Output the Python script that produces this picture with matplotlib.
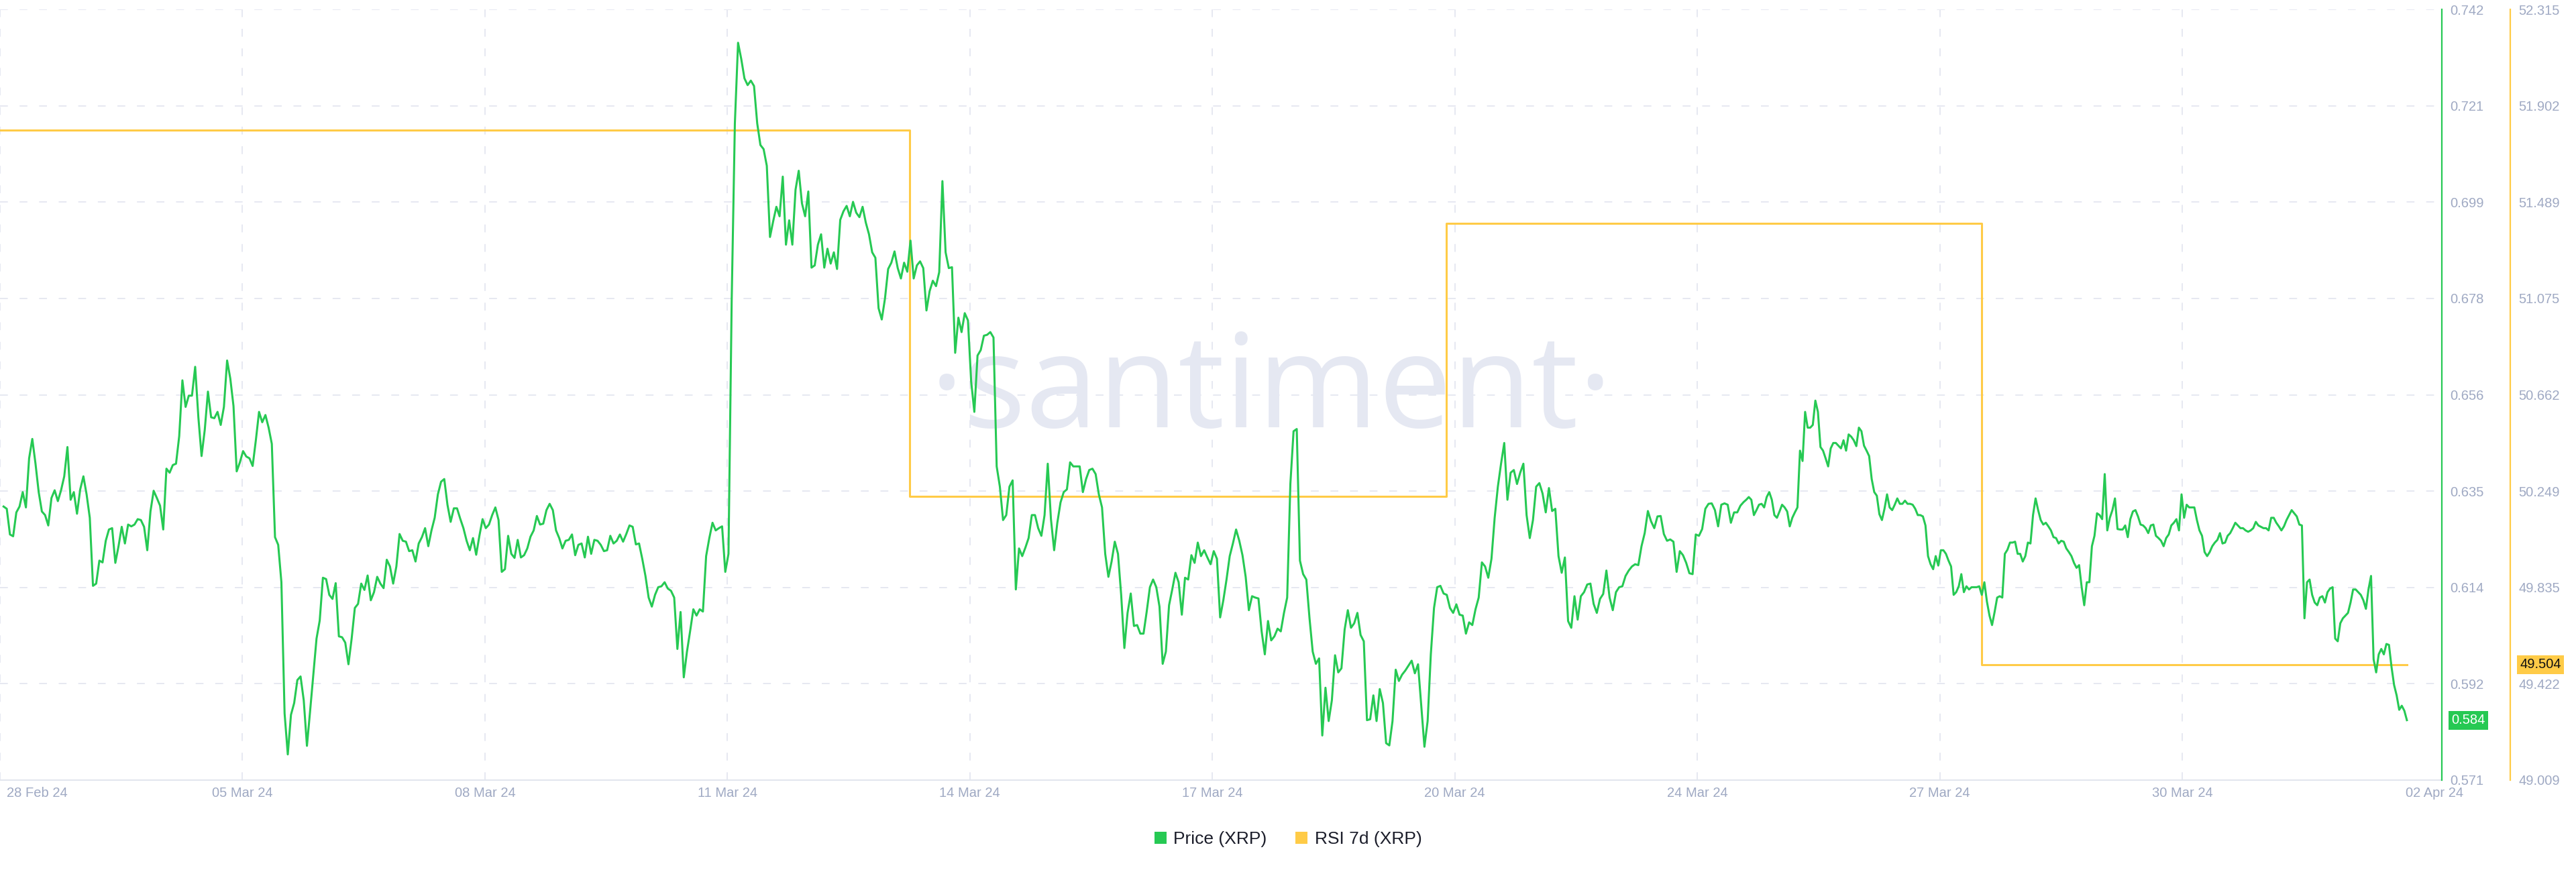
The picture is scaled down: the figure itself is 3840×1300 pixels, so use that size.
import matplotlib.pyplot as plt
from matplotlib.lines import Line2D
from matplotlib.transforms import ScaledTranslation, blended_transform_factory
import numpy as np

plt.rcParams['font.family'] = ['Liberation Sans', 'DejaVu Sans']

# XRP price in three stretches (days since 28 Feb 24)
seg_days = [(0.05, 12.23), (12.23, 24.45), (24.45, 33.75)]

price_a = [
    .6317, .6312, .6255, .6251, .6304, .6317, .6349, .6315, .6424, .6467,
    .6412, .6349, .6306, .6298, .6275, .6336, .6353, .6329, .6353, .6384,
    .6449, .6332, .6349, .6301, .6355, .6384, .6344, .6292, .6141, .6146,
    .6197, .6193, .6241, .6266, .6269, .6192, .6229, .6272, .6235, .6277,
    .6273, .6277, .6289, .6287, .6272, .6220, .6306, .6352, .6336, .6319,
    .6266, .6401, .6392, .6409, .6412, .6473, .6597, .6538, .6563, .6563,
    .6627, .6515, .6429, .6487, .6572, .6515, .6513, .6527, .6498, .6538,
    .6641, .6601, .6540, .6395, .6415, .6440, .6428, .6424, .6407, .6464,
    .6527, .6504, .6520, .6492, .6456, .6249, .6232, .6149, .5858, .5767,
    .5855, .5881, .5932, .5940, .5887, .5786, .5864, .5944, .6024, .6064,
    .6159, .6156, .6121, .6112, .6147, .6029, .6027, .6015, .5967, .6024,
    .6092, .6101, .6146, .6132, .6164, .6109, .6127, .6161, .6146, .6136,
    .6199, .6184, .6146, .6184, .6256, .6241, .6239, .6218, .6220, .6195,
    .6235, .6249, .6269, .6229, .6264, .6292, .6344, .6372, .6378, .6321,
    .6283, .6313, .6313, .6290, .6269, .6241, .6220, .6247, .6210, .6252,
    .6289, .6269, .6277, .6298, .6315, .6287, .6172, .6178, .6252, .6212,
    .6203, .6243, .6204, .6209, .6224, .6250, .6264, .6296, .6277, .6279,
    .6309, .6323, .6309, .6264, .6247, .6224, .6241, .6243, .6255, .6209,
    .6232, .6235, .6204, .6250, .6212, .6243, .6241, .6232, .6218, .6220,
    .6252, .6235, .6241, .6255, .6239, .6256, .6275, .6272, .6233, .6235,
    .6201, .6163, .6115, .6095, .6121, .6138, .6140, .6149, .6135, .6130,
    .6115, .6001, .6083, .5938, .5995, .6041, .6089, .6075, .6089, .6084,
    .6207, .6247, .6281, .6264, .6269, .6273, .6172, .6212, .6772, .7167,
    .7346, .7310, .7267, .7252, .7262, .7250, .7167, .7119, .7110, .7073,
    .6915, .6950, .6982, .6961, .7049, .6898, .6952, .6898, .7020, .7062,
    .6990, .6961, .7016, .6847, .6852, .6898, .6921, .6847, .6889, .6856,
    .6881, .6844, .6953, .6972, .6984, .6961, .6993, .6969, .6959, .6982,
    .6947, .6921, .6881,
]

price_b = [
    .6881, .6869, .6757, .6732, .6778, .6844, .6858, .6883, .6846, .6823,
    .6858, .6838, .6907, .6823, .6852, .6861, .6846, .6752, .6795, .6818,
    .6806, .6837, .7039, .6881, .6846, .6848, .6658, .6736, .6704, .6746,
    .6730, .6595, .6527, .6652, .6664, .6696, .6698, .6704, .6692, .6406,
    .6361, .6287, .6298, .6361, .6375, .6133, .6224, .6207, .6226, .6247,
    .6298, .6298, .6269, .6252, .6298, .6412, .6289, .6220, .6281, .6326,
    .6349, .6355, .6415, .6406, .6406, .6406, .6349, .6378, .6398, .6401,
    .6389, .6344, .6315, .6212, .6161, .6195, .6239, .6212, .6121, .6003,
    .6081, .6124, .6052, .6054, .6035, .6035, .6084, .6138, .6155, .6138,
    .6095, .5968, .5995, .6098, .6133, .6170, .6149, .6077, .6159, .6155,
    .6209, .6192, .6237, .6207, .6220, .6204, .6189, .6218, .6201, .6071,
    .6109, .6155, .6207, .6235, .6266, .6241, .6209, .6161, .6087, .6118,
    .6115, .6113, .6040, .5989, .6063, .6020, .6029, .6046, .6040, .6081,
    .6115, .6367, .6484, .6489, .6197, .6167, .6155, .6069, .5995, .5968,
    .5980, .5809, .5915, .5841, .5887, .5987, .5949, .5958, .6044, .6087,
    .6048, .6058, .6081, .6032, .6018, .5843, .5845, .5898, .5841, .5912,
    .5881, .5792, .5787, .5841, .5955, .5930, .5944, .5953, .5964, .5975,
    .5947, .5967, .5875, .5784, .5841, .5989, .6092, .6138, .6141, .6124,
    .6121, .6092, .6081, .6100, .6077, .6075, .6035, .6060, .6054, .6089,
    .6115, .6193, .6184, .6159, .6201, .6292, .6361, .6412, .6458, .6332,
    .6392, .6398, .6367, .6392, .6412, .6298, .6247, .6287, .6361, .6369,
    .6346, .6304, .6358, .6307, .6312, .6207, .6170, .6204, .6063, .6048,
    .6118, .6066, .6118, .6127, .6144, .6146, .6101, .6081, .6112, .6123,
    .6175, .6115, .6087, .6127, .6138, .6140, .6163, .6175, .6184, .6189,
    .6187, .6229, .6258, .6307, .6284, .6269, .6295, .6296, .6256, .6241,
    .6244, .6239, .6172, .6218, .6209, .6192, .6169, .6167, .6255, .6252,
    .6267, .6312, .6323, .6324, .6309, .6273, .6321, .6324, .6321, .6281,
    .6304, .6304, .6319, .6327,
]

price_c = [
    .6327, .6332, .6338, .6332, .6298, .6309, .6321, .6323, .6315, .6338,
    .6349, .6332, .6298, .6292, .6306, .6321, .6315, .6306, .6273, .6292,
    .6304, .6315, .6441, .6418, .6527, .6492, .6492, .6498, .6552, .6527,
    .6449, .6441, .6424, .6406, .6446, .6458, .6458, .6452, .6446, .6464,
    .6441, .6477, .6472, .6464, .6451, .6492, .6484, .6452, .6441, .6429,
    .6378, .6349, .6341, .6300, .6287, .6312, .6344, .6315, .6309, .6321,
    .6335, .6323, .6323, .6330, .6323, .6323, .6321, .6312, .6298, .6298,
    .6295, .6275, .6207, .6189, .6178, .6207, .6186, .6220, .6220, .6212,
    .6197, .6184, .6121, .6127, .6140, .6167, .6127, .6140, .6133, .6138,
    .6138, .6138, .6140, .6121, .6149, .6106, .6075, .6054, .6083, .6115,
    .6118, .6115, .6212, .6221, .6237, .6237, .6239, .6212, .6212, .6195,
    .6207, .6237, .6235, .6298, .6335, .6309, .6287, .6277, .6281, .6273,
    .6264, .6249, .6247, .6235, .6241, .6239, .6224, .6216, .6207, .6192,
    .6181, .6187, .6138, .6098, .6149, .6149, .6229, .6252, .6302, .6298,
    .6289, .6389, .6264, .6292, .6309, .6335, .6267, .6266, .6266, .6275,
    .6249, .6289, .6306, .6309, .6295, .6277, .6275, .6269, .6258, .6275,
    .6277, .6252, .6247, .6241, .6229, .6247, .6255, .6275, .6281, .6289,
    .6264, .6344, .6292, .6321, .6315, .6315, .6315, .6287, .6264, .6252,
    .6216, .6207, .6216, .6229, .6237, .6243, .6258, .6235, .6237, .6252,
    .6258, .6269, .6281, .6275, .6269, .6269, .6264, .6261, .6264, .6269,
    .6283, .6275, .6272, .6269, .6269, .6264, .6292, .6292, .6281, .6273,
    .6264, .6273, .6287, .6298, .6309, .6302, .6295, .6277, .6275, .6069,
    .6149, .6155, .6121, .6104, .6098, .6115, .6118, .6104, .6127, .6135,
    .6138, .6024, .6018, .6058, .6069, .6075, .6081, .6104, .6133, .6133,
    .6127, .6121, .6109, .6090, .6133, .6163, .5978, .5949, .5989, .6001,
    .5989, .6012, .6010, .5961, .5921, .5898, .5866, .5875, .5864, .5843,
]

# RSI 7d, weekly steps
rsi_days = [0.0, 12.76, 20.28, 27.79, 33.75]
rsi_vals = [51.796, 50.227, 51.396, 49.504, 49.504]

tick_days = [0, 3.4, 6.8, 10.2, 13.6, 17.0, 20.4, 23.8, 27.2, 30.6, 34.0]
tick_labels = ['28 Feb 24', '05 Mar 24', '08 Mar 24', '11 Mar 24', '14 Mar 24', '17 Mar 24',
               '20 Mar 24', '24 Mar 24', '27 Mar 24', '30 Mar 24', '02 Apr 24']
price_ticks = ['0.571', '0.592', '0.614', '0.635', '0.656', '0.678', '0.699', '0.721', '0.742']
rsi_ticks = ['49.009', '49.422', '49.835', '50.249', '50.662', '51.075', '51.489', '51.902', '52.315']

green = '#26c953'
orange = '#ffcb47'
label_col = '#9fa9c3'
grid_col = '#e6e8f1'

days = np.concatenate([np.linspace(s, e, len(p)) for (s, e), p in
                       zip(seg_days, [price_a, price_b, price_c])])
price = np.array(price_a + price_b + price_c)

fig = plt.figure(figsize=(38.4, 13), dpi=100)
ax = fig.add_axes([0, 1 - 1163 / 1300, 3640 / 3840, 1149 / 1300])
axp = ax.twinx()

# rsi axis (drawn underneath)
ax.plot(rsi_days, rsi_vals, drawstyle='steps-post', color=orange, lw=2.2, zorder=2)
ax.set_xlim(0, 34.24)
ax.set_ylim(float(rsi_ticks[0]), float(rsi_ticks[-1]))
ax.yaxis.tick_right()
ax.set_yticks(np.linspace(float(rsi_ticks[0]), float(rsi_ticks[-1]), 9))
ax.set_yticklabels(rsi_ticks)
ax.set_xticks(tick_days)
ax.set_xticklabels(tick_labels)
ax.tick_params(axis='y', length=0, pad=9, labelsize=14.5, labelcolor=label_col)
ax.tick_params(axis='x', length=0, pad=7, labelsize=14.5, labelcolor=label_col)
ax.grid(True, color=grid_col, lw=1.4, linestyle=(0, (6, 9)))
ax.set_axisbelow(True)
ax.get_xgridlines()[-1].set_visible(False)
for s in ['top', 'left']:
    ax.spines[s].set_visible(False)
ax.spines['bottom'].set_color('#e2e6ee')
ax.spines['bottom'].set_linewidth(1.5)
ax.spines['right'].set_position(('axes', 3742 / 3640))
ax.spines['right'].set_color(orange)
ax.spines['right'].set_linewidth(1.6)

xt = ax.get_xticklabels()
xt[0].set_horizontalalignment('left')
xt[0].set_transform(xt[0].get_transform() + ScaledTranslation(0.1, 0, fig.dpi_scale_trans))
xt[-1].set_transform(xt[-1].get_transform() + ScaledTranslation(0.15, 0, fig.dpi_scale_trans))

ax.text(0.5206, 0.4578, '\u00b7santiment\u00b7', transform=ax.transAxes, ha='center',
        va='baseline', fontsize=140, color='#e5e8f2', family=['Open Sans', 'DejaVu Sans'], zorder=1)

# price axis (on top)
axp.plot(days, price, color=green, lw=2.2)
axp.set_ylim(float(price_ticks[0]), float(price_ticks[-1]))
axp.set_yticks(np.linspace(float(price_ticks[0]), float(price_ticks[-1]), 9))
axp.set_yticklabels(price_ticks)
axp.tick_params(axis='y', length=0, pad=9, labelsize=14.5, labelcolor=label_col)
for s in ['top', 'left', 'bottom']:
    axp.spines[s].set_visible(False)
axp.spines['right'].set_color(green)
axp.spines['right'].set_linewidth(1.6)

# last value badges
tp = blended_transform_factory(axp.transAxes, axp.transData)
axp.text(3654 / 3640, price[-1], '%.3f' % price[-1], transform=tp, ha='left', va='center',
         fontsize=14.5, color='white',
         bbox=dict(boxstyle='square,pad=0.22', fc=green, ec='none'))
tr = blended_transform_factory(ax.transAxes, ax.transData)
ax.text(3756 / 3640, rsi_vals[-1], '%.3f' % rsi_vals[-1], transform=tr, ha='left', va='center',
        fontsize=14.5, color='#111111',
        bbox=dict(boxstyle='square,pad=0.22', fc=orange, ec='none'))

handles = [Line2D([], [], marker='s', ls='none', color=green, mew=0, markersize=12.5, label='Price (XRP)'),
           Line2D([], [], marker='s', ls='none', color=orange, mew=0, markersize=12.5, label='RSI 7d (XRP)')]
fig.legend(handles=handles, loc='center', bbox_to_anchor=(0.5, 0.0377), ncol=2, frameon=False,
           fontsize=19, handlelength=0.7, handletextpad=0.4, columnspacing=1.6, labelcolor='#1c1e2b')

fig.savefig('out.png', dpi=100, facecolor='white')
